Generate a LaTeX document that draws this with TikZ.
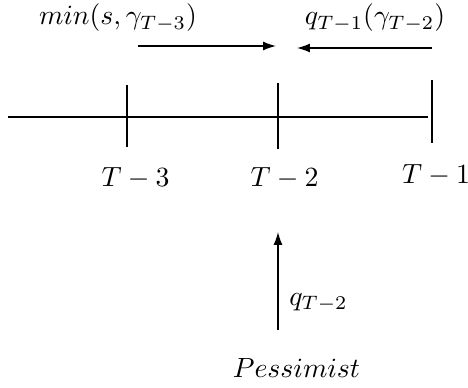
\documentclass[tikz,border=0pt]{standalone}
\usepackage{amsmath,amssymb}
\usepackage{tikz}
\usetikzlibrary{arrows.meta,positioning}
\tikzset{
  axis-line/.style={draw=black, line width=0.5pt},
  move-arrow/.style={draw=black, line width=0.5pt, -{Latex[length=4.6pt,width=3.2pt]}},
  math-label/.style={anchor=base, inner sep=0pt}
}

\begin{document}
\begin{tikzpicture}[x=0.36pt, y=-0.36pt]
  \useasboundingbox (0,0) rectangle (468,387);

  % Time axis
  \coordinate (axl) at (8,117);
  \coordinate (axr) at (428,117);
  \draw[axis-line] (axl) -- (axr);

  % Ticks and period labels
  \foreach \name/\x/\ya/\yb/\lx/\ly/\per in {t3/127/85/147/135.5/186/3, t2/278/83/149/284.5/186/2, t1/432/80/143/436/183/1} {
    \coordinate (\name-hi) at (\x,\ya);
    \coordinate (\name-lo) at (\x,\yb);
    \draw[axis-line] (\name-hi) -- (\name-lo);
    \node[math-label] (\name-lab) at (\lx,\ly) {$T-\per$};
  }

  % Arrows above the axis
  \node[math-label] (minlab) at (118,25) {$min(s,\gamma_{T-3})$};
  \coordinate (ra-s) at (138,46);
  \coordinate (ra-e) at (276,46);
  \draw[move-arrow] (ra-s) -- (ra-e);

  \node[math-label] (qlab) at (375,25) {$q_{T-1}(\gamma_{T-2})$};
  \coordinate (la-s) at (432,48);
  \coordinate (la-e) at (297,48);
  \draw[move-arrow] (la-s) -- (la-e);

  % Pessimist
  \node[math-label] (pess) at (296.5,377) {$Pessimist$};
  \coordinate (pa-s) at (278,330);
  \coordinate (pa-e) at (278,232);
  \draw[move-arrow] (pa-s) -- (pa-e);
  \node[math-label] (qpess) at (318.5,305) {$q_{T-2}$};
\end{tikzpicture}
\end{document}
